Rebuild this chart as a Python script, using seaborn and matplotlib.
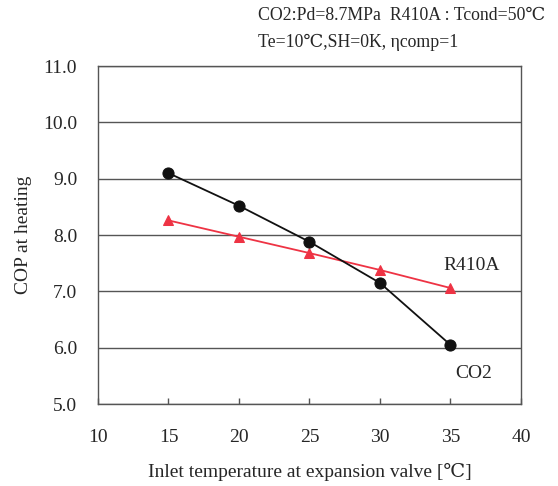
import matplotlib
matplotlib.use("Agg")
import matplotlib.pyplot as plt
import seaborn as sns
import pandas as pd

temps = [15, 20, 25, 30, 35]
cop_co2 = [9.10, 8.52, 7.88, 7.15, 6.05]
cop_r410a = [8.26, 7.97, 7.68, 7.38, 7.06]
xticks = [10, 15, 20, 25, 30, 35, 40]
yticks = [5.0, 6.0, 7.0, 8.0, 9.0, 10.0, 11.0]

sns.set_theme(style="white")
plt.rcParams['font.family'] = ['Liberation Serif', 'DejaVu Serif']

df = pd.DataFrame({"T": temps * 2,
                   "COP": cop_co2 + cop_r410a,
                   "fluid": ["CO2"] * 5 + ["R410A"] * 5})

fig = plt.figure(figsize=(5.58, 4.86), dpi=100)
ax = fig.add_axes([0.1756, 0.1687, 0.758, 0.6953])

for y in yticks:
    ax.axhline(y, color="#555555", lw=1.0, zorder=1)

sns.lineplot(data=df[df.fluid == "CO2"], x="T", y="COP", ax=ax, color="#111111",
             marker="o", markersize=8, markeredgecolor="#111111", lw=1.3, zorder=3)
sns.lineplot(data=df[df.fluid == "R410A"], x="T", y="COP", ax=ax, color="#ee3344",
             marker="^", markersize=7, markeredgecolor="#ee3344", lw=1.3, zorder=2)

ax.set_xlim(10, 40)
ax.set_ylim(5.0, 11.0)
ax.set_xticks(xticks)
ax.set_xticklabels([str(x) for x in xticks], fontsize=14)
ax.set_yticks(yticks)
ax.set_yticklabels([f"{y:.1f}" for y in yticks], fontsize=14)
ax.tick_params(axis="x", direction="in", length=4, width=1, color="#555555", pad=18, bottom=True)
ax.tick_params(axis="y", length=0, pad=15)
for s in ax.spines.values():
    s.set_color("#555555")
    s.set_linewidth(1.0)

ax.set_xlabel("Inlet temperature at expansion valve [\u2103]", fontsize=14, labelpad=12)
ax.set_ylabel("COP at heating", fontsize=14, labelpad=8)

ax.text(34.5, 7.46, "R410A", fontsize=14, ha="left", va="center")
ax.text(35.35, 5.55, "CO2", fontsize=14, ha="left", va="center")

fig.text(0.462, 0.968, "CO2:Pd=8.7MPa  R410A : Tcond=50\u2103", fontsize=12.8, ha="left", va="center")
fig.text(0.462, 0.913, "Te=10\u2103,SH=0K, \u03b7comp=1", fontsize=12.8, ha="left", va="center")

fig.savefig("out.png", dpi=100)
